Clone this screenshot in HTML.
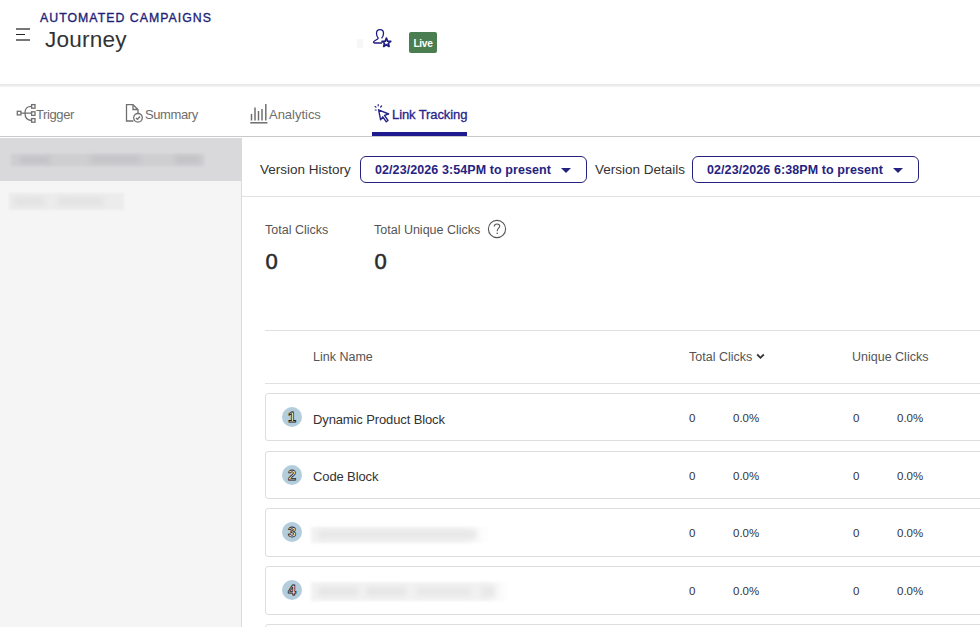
<!DOCTYPE html>
<html><head><meta charset="utf-8">
<style>
*{box-sizing:border-box;margin:0;padding:0}
html,body{width:980px;height:627px;overflow:hidden;background:#fff;font-family:"Liberation Sans",sans-serif;color:#333}
.abs{position:absolute}
#hdrline{position:absolute;left:0;top:84px;width:980px;height:3px;background:linear-gradient(#e3e3e3,#ebebeb 40%,#f7f7f7)}
#sup{left:40px;top:11px;font-size:12.3px;letter-spacing:1.03px;color:#231f78;-webkit-text-stroke:0.35px #231f78;white-space:nowrap}
#title{left:45px;top:26.6px;font-size:22.6px;letter-spacing:0.2px;color:#333;white-space:nowrap}
#live{left:409px;top:32px;width:28px;height:21px;background:#4a7d50;border-radius:2px;color:#fff;font-size:10.2px;letter-spacing:-0.3px;font-weight:bold;text-align:center;line-height:23px}
.tab{position:absolute;top:107px;font-size:13px;letter-spacing:-0.4px;color:#6e6e6e;white-space:nowrap}
#tabline{position:absolute;left:0;top:136px;width:980px;height:1px;background:#c9c9c9}
#active{position:absolute;left:372px;top:132px;width:95px;height:4px;background:#1f1a8f}
#side{position:absolute;left:0;top:138px;width:242px;height:489px;background:#f5f5f5;border-right:1px solid #dadada}
#sidesel{position:absolute;left:0;top:138px;width:241px;height:43px;background:#d9d9dc}
.blur{position:absolute;filter:blur(2.5px);border-radius:2px}
.lbl{position:absolute;font-size:13.5px;color:#333;white-space:nowrap}
.dd{position:absolute;height:27px;border:1px solid #26237f;border-radius:6px;color:#26237f;font-weight:bold;font-size:12.5px;letter-spacing:0.08px;white-space:nowrap;padding-left:14px;line-height:26px}
.dd .tri{position:absolute;right:15px;top:11px;width:0;height:0;border-left:5.5px solid transparent;border-right:5.5px solid transparent;border-top:5.5px solid #26237f}
#vline{position:absolute;left:242px;top:196px;width:738px;height:1px;background:#e2e2e2}
.stat{position:absolute;font-size:12.5px;color:#555;white-space:nowrap}
.big{position:absolute;font-size:22px;color:#2b2b2b;-webkit-text-stroke:0.55px #2b2b2b}
.hl{position:absolute;left:265px;width:715px;height:1px;background:#e0e0e0}
.th{position:absolute;top:350px;font-size:12.5px;color:#555;white-space:nowrap}
.row{position:absolute;left:265px;width:730px;height:48px;border:1px solid #dedede;border-radius:3px;background:#fff}
.num{position:absolute;left:16px;top:13px;width:20px;height:20px}
.rn{position:absolute;left:47px;top:17.5px;font-size:13px;letter-spacing:-0.12px;color:#333;white-space:nowrap}
.c{position:absolute;top:18px;font-size:11.5px;color:#333;white-space:nowrap}
</style></head><body>
<div id="hdrline"></div>
<!-- hamburger -->
<div class="abs" style="left:16px;top:28px;width:14px;height:2px;background:#777"></div>
<div class="abs" style="left:16px;top:34px;width:9px;height:1px;background:#222"></div>
<div class="abs" style="left:16px;top:39px;width:14px;height:2px;background:#777"></div>
<div id="sup" class="abs">AUTOMATED CAMPAIGNS</div>
<div id="title" class="abs">Journey</div>
<div class="abs" style="left:357px;top:39px;width:6px;height:9px;background:#f7f7f7"></div>
<svg class="abs" style="left:371px;top:28px" width="22" height="20" viewBox="0 0 22 20">
<path d="M11 15 H3.5 C2.5 15 2.3 14.3 2.8 13.6 C3.8 12.3 6 11.8 7 10.6 L7 9.6 C6 8.6 5.5 7.2 5.5 5.2 C5.5 2.9 7 1.6 9 1.6 C11 1.6 12.5 2.9 12.5 5.2 C12.5 7.2 12 8.6 11 9.6 L10.8 10.4" fill="none" stroke="#1f1c80" stroke-width="1.3"/>
<path d="M15.40 10.10 L16.58 13.08 L19.77 13.28 L17.30 15.32 L18.10 18.42 L15.40 16.70 L12.70 18.42 L13.50 15.32 L11.03 13.28 L14.22 13.08 Z" fill="#fff" stroke="#1f1c80" stroke-width="1.7" stroke-linejoin="round"/>
</svg>
<div id="live" class="abs">Live</div>

<!-- tabs -->
<svg class="abs" style="left:16px;top:103px" width="22" height="21" viewBox="0 0 22 21">
<g fill="none" stroke="#707070" stroke-width="1.3">
<rect x="1.3" y="8.3" width="3.6" height="3.6"/>
<path d="M4.9 10.1 H15.5 M9 10.1 C9 5.5 10.5 3.4 15.5 3.4 M9 10.1 C9 14.8 10.5 17.5 15.5 17.5"/>
<rect x="15.6" y="1.6" width="3.4" height="3.6"/>
<rect x="15.6" y="8.8" width="3.4" height="3.6"/>
<rect x="15.6" y="15.6" width="3.4" height="3.6"/>
</g></svg>
<div class="tab" style="left:36px">Trigger</div>
<svg class="abs" style="left:125px;top:103px" width="20" height="22" viewBox="0 0 20 22">
<g fill="none" stroke="#707070" stroke-width="1.3">
<path d="M8.5 18 H1.5 V1.7 H8 L13 6.5 V11"/><path d="M8 1.7 V6.5 H13"/>
<circle cx="13" cy="14.8" r="4.3"/><path d="M11 14.9 L12.5 16.3 L15 13.5"/>
</g></svg>
<div class="tab" style="left:145px">Summary</div>
<svg class="abs" style="left:249px;top:102px" width="20" height="23" viewBox="0 0 20 23">
<g fill="none" stroke="#6c6c6c" stroke-width="1.45">
<path d="M2.5 18.5 V12 M6 18.5 V5.5 M9.5 18.5 V9 M13 18.5 V7 M16.8 18.5 V2"/><path d="M1.3 20.8 H18.4" stroke-width="1.5"/>
</g></svg>
<div class="tab" style="left:269px;letter-spacing:-0.02px">Analytics</div>
<svg class="abs" style="left:370px;top:101px" width="22" height="24" viewBox="0 0 22 24">
<g fill="none" stroke="#27248a" stroke-width="1.4" stroke-linejoin="round">
<path d="M8.6 8.8 L18.6 13 L14.5 14.3 L18 19.5 L16.3 20.8 L12.8 15.8 L10.6 18.8 Z"/>
</g>
<g stroke="#27248a" stroke-width="1.2" stroke-linecap="round">
<path d="M8.2 3.6 V4.8 M5 5.4 L6 6.2 M11.6 5 L10.6 6 M5.2 9 H6.2"/>
</g></svg>
<div class="tab" style="left:392px;color:#27248a;letter-spacing:-0.1px;-webkit-text-stroke:0.3px #27248a">Link Tracking</div>
<div id="tabline"></div>
<div id="active"></div>

<!-- sidebar -->
<div id="side"></div>
<div id="sidesel"></div>
<div class="abs" style="left:11px;top:154px;width:193px;height:12px;background:#cfcfd2;filter:blur(1px)"></div>
<div class="blur" style="left:20px;top:157px;width:30px;height:6px;background:#c2c2c5"></div>
<div class="blur" style="left:90px;top:156px;width:50px;height:7px;background:#c4c4c7"></div>
<div class="blur" style="left:175px;top:156px;width:25px;height:7px;background:#c2c2c5"></div>
<div class="abs" style="left:9px;top:193px;width:115px;height:17px;background:#ececec;filter:blur(1px)"></div>
<div class="blur" style="left:14px;top:197px;width:30px;height:9px;background:#e3e3e3"></div>
<div class="blur" style="left:58px;top:197px;width:45px;height:9px;background:#e3e3e3"></div>

<!-- version row -->
<div class="lbl" style="left:260px;top:162px">Version History</div>
<div class="dd" style="left:360px;top:156px;width:227px">02/23/2026 3:54PM to present<span class="tri"></span></div>
<div class="lbl" style="left:595px;top:162px">Version Details</div>
<div class="dd" style="left:692px;top:156px;width:227px">02/23/2026 6:38PM to present<span class="tri"></span></div>
<div id="vline"></div>

<!-- stats -->
<div class="stat" style="left:265px;top:223px">Total Clicks</div>
<div class="big" style="left:265.5px;top:248.5px">0</div>
<div class="stat" style="left:374px;top:223px">Total Unique Clicks</div>
<svg class="abs" style="left:487px;top:219px" width="20" height="20" viewBox="0 0 20 20"><circle cx="10" cy="10" r="8.6" fill="none" stroke="#555" stroke-width="1.1"/><path d="M7.3 7.6 C7.3 5.9 8.5 5 10 5 C11.6 5 12.7 6 12.7 7.3 C12.7 9 10.3 9.4 10.3 11.6 V12.3" fill="none" stroke="#555" stroke-width="1.1"/><rect x="9.6" y="13.6" width="1.3" height="1.4" fill="#555"/></svg>
<div class="big" style="left:374.5px;top:248.5px">0</div>

<!-- table -->
<div class="hl" style="top:330px"></div>
<div class="th" style="left:313px">Link Name</div>
<div class="th" style="left:689px">Total Clicks</div>
<svg class="abs" style="left:756px;top:353px" width="9" height="7" viewBox="0 0 9 7"><path d="M1.2 1.5 L4.5 4.8 L7.8 1.5" fill="none" stroke="#333" stroke-width="1.8"/></svg>
<div class="th" style="left:852px">Unique Clicks</div>
<div class="hl" style="top:383px"></div>

<div class="row" style="top:393px"><svg class="num" viewBox="0 0 20 20"><circle cx="10" cy="10" r="10" fill="#b3cddc"/><text x="10" y="15.4" text-anchor="middle" font-family="Liberation Sans" font-weight="bold" font-size="14.5" fill="#fff" stroke="#1a1a1a" stroke-width="0.8">1</text></svg><div class="rn">Dynamic Product Block</div><div class="c" style="left:423px">0</div><div class="c" style="left:467px">0.0%</div><div class="c" style="left:587px">0</div><div class="c" style="left:631px">0.0%</div></div>
<div class="row" style="top:450.6px;height:48.3px"><svg class="num" viewBox="0 0 20 20"><circle cx="10" cy="10" r="10" fill="#b3cddc"/><text x="10" y="15.4" text-anchor="middle" font-family="Liberation Sans" font-weight="bold" font-size="14.5" fill="#fff" stroke="#1a1a1a" stroke-width="0.8">2</text></svg><div class="rn">Code Block</div><div class="c" style="left:423px">0</div><div class="c" style="left:467px">0.0%</div><div class="c" style="left:587px">0</div><div class="c" style="left:631px">0.0%</div></div>
<div class="row" style="top:508.3px;height:48.5px"><svg class="num" viewBox="0 0 20 20"><circle cx="10" cy="10" r="10" fill="#b3cddc"/><text x="10" y="15.4" text-anchor="middle" font-family="Liberation Sans" font-weight="bold" font-size="14.5" fill="#fff" stroke="#1a1a1a" stroke-width="0.8">3</text></svg><div class="abs" style="left:45px;top:18px;width:178px;height:16px;background:linear-gradient(90deg,#f2f2f2 85%,#fff);filter:blur(1.5px)"></div><div class="blur" style="left:52px;top:21px;width:158px;height:9px;background:#e8e8e8"></div><div class="c" style="left:423px">0</div><div class="c" style="left:467px">0.0%</div><div class="c" style="left:587px">0</div><div class="c" style="left:631px">0.0%</div></div>
<div class="row" style="top:566.2px;height:48.8px"><svg class="num" viewBox="0 0 20 20"><circle cx="10" cy="10" r="10" fill="#b3cddc"/><text x="10" y="15.4" text-anchor="middle" font-family="Liberation Sans" font-weight="bold" font-size="14.5" fill="#fff" stroke="#1a1a1a" stroke-width="0.8">4</text></svg><div class="abs" style="left:45px;top:15px;width:198px;height:19px;background:linear-gradient(90deg,#f2f2f2 88%,#fff);filter:blur(1.5px)"></div><div class="blur" style="left:52px;top:20px;width:40px;height:9px;background:#e6e6e6"></div><div class="blur" style="left:100px;top:20px;width:40px;height:9px;background:#e6e6e6"></div><div class="blur" style="left:150px;top:20px;width:55px;height:9px;background:#e8e8e8"></div><div class="blur" style="left:215px;top:19px;width:14px;height:11px;background:#e8e8e8"></div><div class="c" style="left:423px">0</div><div class="c" style="left:467px">0.0%</div><div class="c" style="left:587px">0</div><div class="c" style="left:631px">0.0%</div></div>
<div class="row" style="top:624px"></div>
</body></html>
